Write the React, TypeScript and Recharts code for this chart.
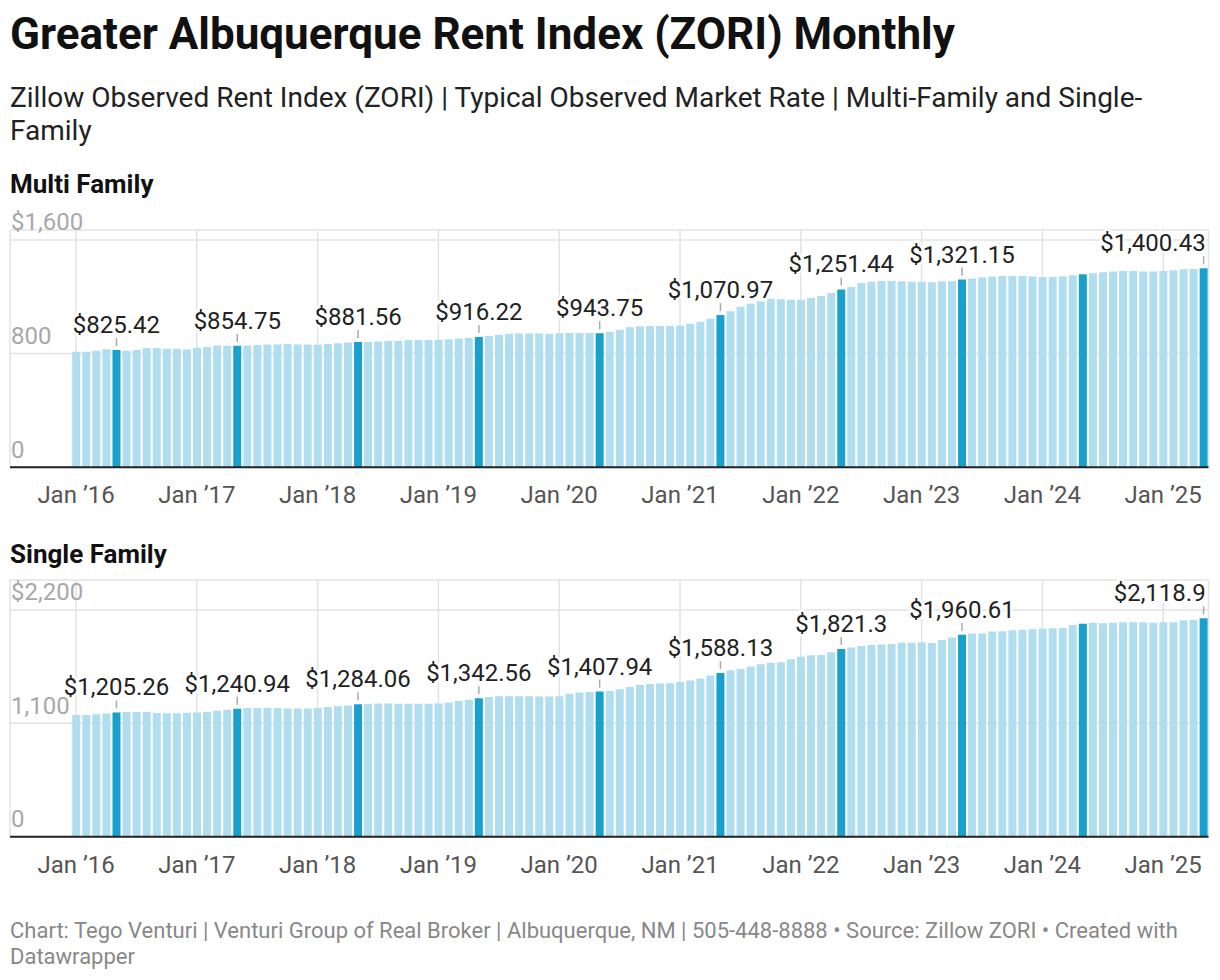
import React from 'react';
import { BarChart, Bar, XAxis, YAxis, CartesianGrid, Cell, LabelList } from 'recharts';

// monthly ZORI, Jan 2016 - May 2025
const multiFamily = [
  813, 813, 821, 831, 825.42, 821, 826, 839, 840, 835, 835, 829,
  842, 847, 858, 856, 854.75, 857, 861, 864, 864, 867, 864, 864,
  862, 867, 873, 879, 881.56, 882, 885, 889, 889, 895, 896, 896,
  897, 901, 906, 910, 916.22, 924, 933, 939, 941, 941, 941, 940,
  943, 945, 945, 945, 943.75, 954, 968, 985, 992, 994, 994, 994,
  998, 1010, 1025, 1045, 1070.97, 1098, 1129, 1151, 1168, 1187, 1183, 1179,
  1180, 1191, 1205, 1226, 1251.44, 1269, 1297, 1306, 1311, 1311, 1309, 1306,
  1306, 1302, 1309, 1309, 1321.15, 1328, 1337, 1342, 1346, 1346, 1346, 1342,
  1339, 1339, 1344, 1351, 1358, 1365, 1372, 1378, 1382, 1382, 1378, 1378,
  1382, 1386, 1393, 1396, 1400.43,
];

const singleFamily = [
  1180, 1180, 1187, 1196, 1205.26, 1209, 1209, 1209, 1200, 1199, 1199, 1203,
  1206, 1212, 1222, 1232, 1240.94, 1248, 1248, 1248, 1248, 1245, 1245, 1245,
  1248, 1258, 1267, 1274, 1284.06, 1287, 1293, 1293, 1290, 1290, 1290, 1290,
  1293, 1303, 1316, 1329, 1342.56, 1355, 1364, 1364, 1364, 1364, 1361, 1361,
  1364, 1387, 1400, 1403, 1407.94, 1413, 1432, 1452, 1471, 1481, 1487, 1490,
  1500, 1516, 1536, 1565, 1588.13, 1614, 1627, 1652, 1674, 1688, 1694, 1723,
  1745, 1760, 1763, 1789, 1821.3, 1837, 1850, 1860, 1866, 1869, 1882, 1882,
  1888, 1879, 1908, 1933, 1960.61, 1973, 1973, 1992, 1993, 2004, 2008, 2014,
  2019, 2023, 2026, 2054, 2066, 2077, 2072, 2077, 2082, 2082, 2082, 2077,
  2080, 2080, 2101, 2105, 2118.9,
];

const monthNames = ['Jan', 'Feb', 'Mar', 'Apr', 'May', 'Jun', 'Jul', 'Aug', 'Sep', 'Oct', 'Nov', 'Dec'];
const years = [2016, 2017, 2018, 2019, 2020, 2021, 2022, 2023, 2024, 2025];
const months = years
  .flatMap((y) => monthNames.map((m) => `${m} ${y}`))
  .slice(0, multiFamily.length);

const xTickLabels = ['Jan ’16', 'Jan ’17', 'Jan ’18', 'Jan ’19', 'Jan ’20', 'Jan ’21', 'Jan ’22', 'Jan ’23', 'Jan ’24', 'Jan ’25'];

const highlightMonths = ['May 2016', 'May 2017', 'May 2018', 'May 2019', 'May 2020', 'May 2021', 'May 2022', 'May 2023', 'May 2024', 'May 2025'];
const labeledMonths = ['May 2016', 'May 2017', 'May 2018', 'May 2019', 'May 2020', 'May 2021', 'May 2022', 'May 2023', 'May 2025'];

const multiTicks = [0, 800, 1600];
const multiTickLabels = ['0', '800', '$1,600'];
const singleTicks = [0, 1100, 2200];
const singleTickLabels = ['0', '1,100', '$2,200'];

const LIGHT = '#b0deef';
const DARK = '#18a1cd';
const FONT = 'Roboto, sans-serif';
const AXIS_H = 52.7;
const PAD_TOP = 30;

const fmt = (v: number) => '$' + v.toLocaleString('en-US', { maximumFractionDigits: 2 });

function Panel({ series, ticks, tickLabels, yMax, plotHeight, plotTop }: any) {
  const rows = months.map((m, i) => ({
    month: m,
    value: series[i],
    label: labeledMonths.includes(m) ? fmt(series[i]) : null,
  }));
  const lastLabel = rows[rows.length - 1].label;
  const bottom = PAD_TOP + plotHeight;

  const renderXTick = (p: any) => {
    const idx = years.findIndex((y) => `Jan ${y}` === p.payload.value);
    return (
      <text x={p.x} y={bottom + 36} textAnchor="middle" fontSize={24} fill="#555" fontFamily={FONT}>
        {xTickLabels[idx]}
      </text>
    );
  };

  const renderYTick = (p: any) => {
    const idx = ticks.indexOf(p.payload?.value);
    return (
      <text x={11} y={p.y - 9.5} textAnchor="start" fontSize={24} fill="#a8a8a8" fontFamily={FONT}>
        {tickLabels[idx]}
      </text>
    );
  };

  const renderLabel = (p: any) => {
    if (!p.value) return null;
    const vb = p.viewBox || {};
    const x = p.x ?? vb.x;
    const y = p.y ?? vb.y;
    const w = p.width ?? vb.width;
    const cx = x + w / 2;
    const end = p.value === lastLabel;
    return (
      <g>
        <line x1={cx} x2={cx} y1={y - 4} y2={y - 12} stroke="#aaa" strokeWidth={1.5} />
        <text
          x={end ? cx + 2 : cx}
          y={y - 17}
          textAnchor={end ? 'end' : 'middle'}
          fontSize={24}
          fill="#222"
          fontFamily={FONT}
          stroke="#fff"
          strokeWidth={5}
          paintOrder="stroke"
        >
          {p.value}
        </text>
      </g>
    );
  };

  return (
    <div style={{ position: 'absolute', left: 0, top: plotTop - PAD_TOP }}>
      <BarChart
        width={1220}
        height={PAD_TOP + plotHeight + AXIS_H}
        data={rows}
        margin={{ top: PAD_TOP, right: 11.5, bottom: 0, left: 9 }}
        barCategoryGap={1.2}
      >
        <CartesianGrid stroke="#e3e3e3" strokeWidth={1.5} />
        <XAxis
          dataKey="month"
          interval={11}
          height={AXIS_H}
          padding={{ left: 61, right: 0 }}
          axisLine={{ stroke: '#222', strokeWidth: 2 }}
          tickLine={false}
          tick={renderXTick}
        />
        <YAxis
          width={1}
          type="number"
          domain={[0, yMax]}
          ticks={ticks}
          interval={0}
          axisLine={false}
          tickLine={false}
          tick={renderYTick}
        />
        <Bar dataKey="value" isAnimationActive={false}>
          {rows.map((r) => (
            <Cell key={r.month} fill={highlightMonths.includes(r.month) ? DARK : LIGHT} />
          ))}
          <LabelList dataKey="label" content={renderLabel} />
        </Bar>
      </BarChart>
    </div>
  );
}

export default function App() {
  return (
    <div
      style={{
        position: 'absolute',
        left: 0,
        top: 0,
        width: 1220,
        height: 980,
        background: '#fff',
        fontFamily: FONT,
      }}
    >
      <div style={{ position: 'absolute', left: 10, top: 8, fontSize: 44, lineHeight: '52px', fontWeight: 700, color: '#111', whiteSpace: 'nowrap' }}>
        Greater Albuquerque Rent Index (ZORI) Monthly
      </div>
      <div style={{ position: 'absolute', left: 10, top: 80.5, fontSize: 28, lineHeight: '33px', color: '#222', whiteSpace: 'nowrap' }}>
        Zillow Observed Rent Index (ZORI) | Typical Observed Market Rate | Multi-Family and Single-
        <br />
        Family
      </div>
      <div style={{ position: 'absolute', left: 10, top: 168.5, fontSize: 26, lineHeight: '30px', fontWeight: 700, color: '#111' }}>
        Multi Family
      </div>
      <Panel series={multiFamily} ticks={multiTicks} tickLabels={multiTickLabels} yMax={1670} plotHeight={237.3} plotTop={230} />
      <div style={{ position: 'absolute', left: 10, top: 538.5, fontSize: 26, lineHeight: '30px', fontWeight: 700, color: '#111' }}>
        Single Family
      </div>
      <Panel series={singleFamily} ticks={singleTicks} tickLabels={singleTickLabels} yMax={2491} plotHeight={256.7} plotTop={580} />
      <div style={{ position: 'absolute', left: 10, top: 917.5, fontSize: 22, lineHeight: '26px', color: '#888', whiteSpace: 'nowrap' }}>
        Chart: Tego Venturi | Venturi Group of Real Broker | Albuquerque, NM | 505-448-8888 • Source: Zillow ZORI • Created with
        <br />
        Datawrapper
      </div>
    </div>
  );
}
